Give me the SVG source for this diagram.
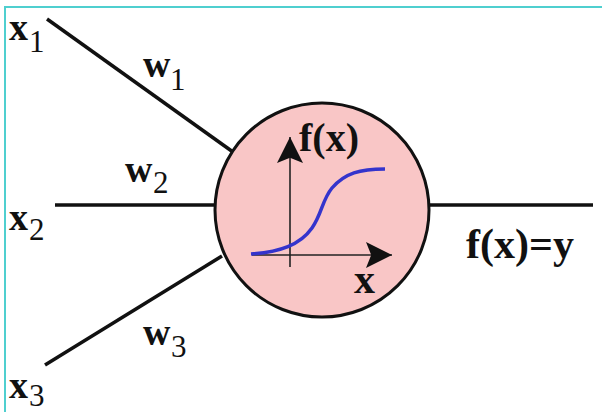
<svg xmlns="http://www.w3.org/2000/svg" width="602" height="412" viewBox="0 0 602 412">
<style>
.lbl{font-family:"Liberation Serif","Times New Roman",serif;font-weight:bold;fill:#111}
.sub{font-family:"Liberation Serif","Times New Roman",serif;font-weight:normal;fill:#111;font-size:31px}
.edge{stroke:#111;stroke-width:3.5;fill:none;stroke-linecap:butt}
.axis{stroke:#222;stroke-width:1.6;fill:none}
</style>
<defs>
<marker id="ahv" viewBox="0 0 10 10" refX="10" refY="5" markerWidth="26" markerHeight="26" markerUnits="userSpaceOnUse" orient="auto">
<path d="M0,0 L10,5 L0,10 L2,5 Z" fill="#111"/>
</marker>
</defs>
<rect width="602" height="412" fill="#fff"/>
<path d="M5,412 V7 H602" stroke="#4fcfcf" stroke-width="2" fill="none"/>
<g id="connectors">
<line class="edge" x1="47" y1="19" x2="233" y2="152"/>
<line class="edge" x1="55" y1="205" x2="216" y2="205"/>
<line class="edge" x1="45" y1="365" x2="222" y2="256"/>
<line class="edge" x1="429" y1="205" x2="593" y2="205"/>
</g>
<g id="neuron">
<circle cx="322" cy="210" r="107" fill="#f9c6c6" stroke="#111" stroke-width="3"/>
<line class="axis" x1="290" y1="267" x2="290" y2="137" marker-end="url(#ahv)"/>
<line class="axis" x1="252" y1="255" x2="392" y2="255" marker-end="url(#ahv)"/>
<path d="M251,254 C280,252 300,245 312,228 C322,214 322,200 332,188 C345,173 360,169 385,169" stroke="#3434cc" stroke-width="3.5" fill="none"/>
<text class="lbl" x="299" y="151" font-size="40">f(x)</text>
<text class="lbl" x="354" y="293" font-size="42">x</text>
</g>
<g id="x1"><text class="lbl" x="9" y="40" font-size="38">x</text><text class="sub" x="29" y="52">1</text></g>
<g id="x2"><text class="lbl" x="9" y="230" font-size="38">x</text><text class="sub" x="29" y="240">2</text></g>
<g id="x3"><text class="lbl" x="9" y="398" font-size="38">x</text><text class="sub" x="29" y="406">3</text></g>
<g id="w1"><text class="lbl" x="143" y="77" font-size="38">w</text><text class="sub" x="170" y="90">1</text></g>
<g id="w2"><text class="lbl" x="125" y="182" font-size="38">w</text><text class="sub" x="153" y="193">2</text></g>
<g id="w3"><text class="lbl" x="143" y="345" font-size="38">w</text><text class="sub" x="171" y="357">3</text></g>
<g id="output"><text class="lbl" x="466" y="258" font-size="42">f(x)=y</text></g>
</svg>
